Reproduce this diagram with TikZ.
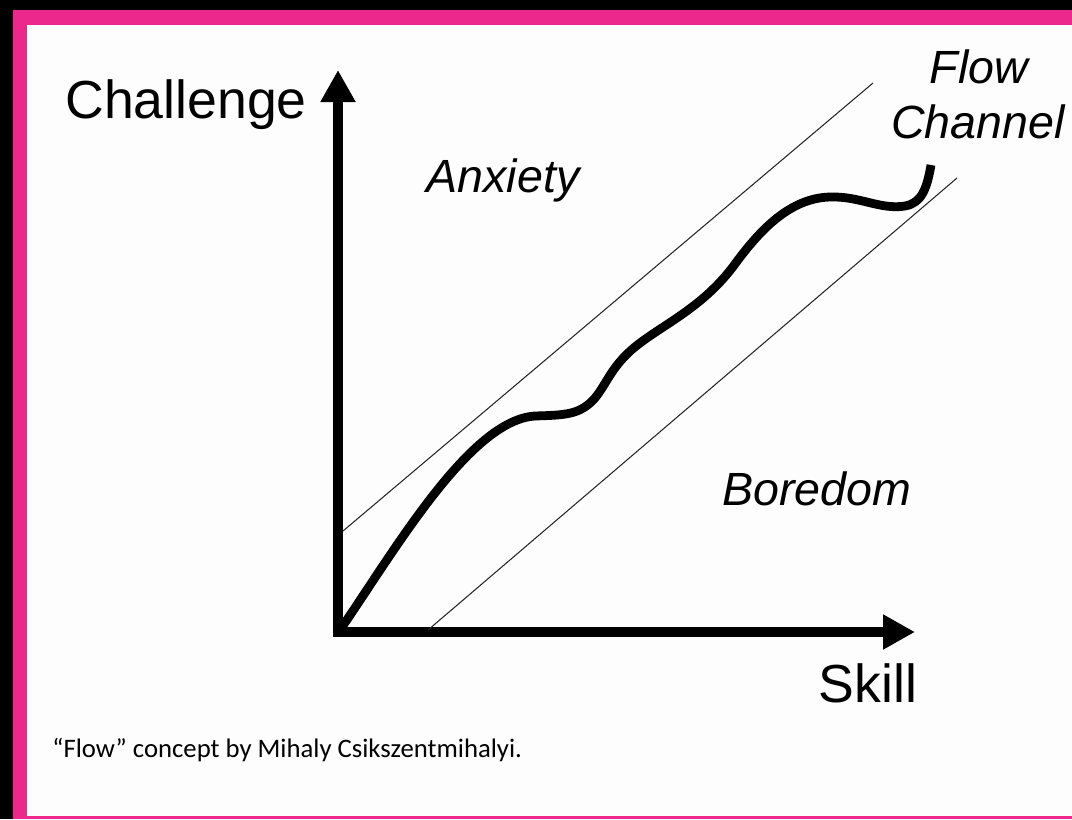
\documentclass[tikz,border=0pt]{standalone}
\usepackage{fontspec}
\setmainfont{Liberation Sans}
\newfontfamily\notefont{Carlito}
\usetikzlibrary{arrows.meta}
\definecolor{rahmen}{RGB}{236,40,140}
\definecolor{papier}{RGB}{253,253,253}

\begin{document}
\begin{tikzpicture}[x=0.2mm,y=-0.2mm,
	achse/.style={line width=6.2pt,line join=miter,{Triangle[length=6.4mm,width=6.6mm]}-{Triangle[length=6.4mm,width=6.6mm]}},
	kanal/.style={line width=0.6pt,color=black!85},
	achsentext/.style={font=\fontsize{30.5}{36}\selectfont,inner sep=0pt,anchor=base},
	bereich/.style={font=\fontsize{26.5}{32}\selectfont\itshape,inner sep=0pt,anchor=base}]
	\useasboundingbox (0,0) rectangle (1072,819);
	%Hintergrund und Rahmen
	\fill [black] (0,0) rectangle (1072,819);
	\fill [rahmen] (13,10) rectangle (1072,819);
	\fill [papier] (27,25) rectangle (1072,816);
	% Achsen zeichnen
	\coordinate (O) at (338,632);
	\coordinate (ytip) at (338,70);
	\coordinate (xtip) at (915,632);
	\draw [achse] (ytip) -- (O) -- (xtip);
	\node [achsentext] (challenge) at (186,118) {Challenge};
	\node [achsentext] (skill) at (868,702) {Skill};
	% Kanal
	\coordinate (k1) at (343,531);
	\coordinate (k2) at (873,83);
	\coordinate (k3) at (428,630);
	\coordinate (k4) at (957,178);
	\draw [kanal] (k1) -- (k2);
	\draw [kanal] (k3) -- (k4);
	\node [bereich] (anxiety) at (503,192) {Anxiety};
	\node [bereich] (boredom) at (817,505) {Boredom};
	\node [bereich] (flow) at (979,83) {Flow};
	\node [bereich] (channel) at (978,138) {Channel};
	%graph
	\draw [line width=5pt] (340,630) .. controls (395,550) and (470,420) .. (535,416)
		.. controls (565,415) and (580,415) .. (595,398)
		.. controls (608,382) and (612,364) .. (640,343)
		.. controls (668,322) and (705,305) .. (735,264)
		.. controls (760,230) and (790,198) .. (830,197)
		.. controls (860,196) and (880,210) .. (905,206)
		.. controls (922,203) and (927,188) .. (931,165);
	% Quelle
	\node [font=\notefont\fontsize{15.2}{18}\selectfont,inner sep=0pt,anchor=base west] (quelle) at (52,757) {“Flow” concept by Mihaly Csikszentmihalyi.};
\end{tikzpicture}
\end{document}
